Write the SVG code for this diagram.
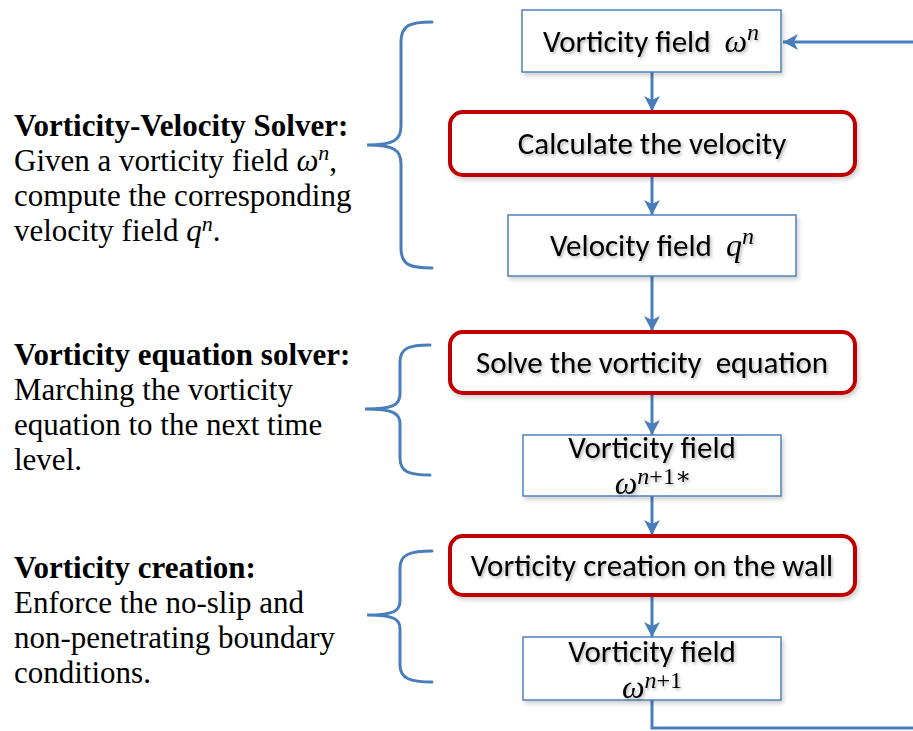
<svg xmlns="http://www.w3.org/2000/svg" width="913" height="731" viewBox="0 0 913 731">
<style>
.box{fill:#fff;stroke:#4F81BD;stroke-width:1.5}
.proc{fill:#fff;stroke:#C00000;stroke-width:4}
.bt{font-family:"Carlito","Lato","Open Sans",sans-serif;font-size:31px;fill:#000;text-anchor:middle}
.m{font-family:"Liberation Serif","DejaVu Serif",serif;font-style:italic}
.u{font-family:"Liberation Serif","DejaVu Serif",serif;font-style:normal}
.lt{font-family:"Liberation Serif","Times New Roman",serif;font-size:31px;fill:#000}
.lt .h{font-weight:bold}
.conn{fill:none;stroke:#4A7EBB;stroke-width:3}
.brace{fill:none;stroke:#4A7EBB;stroke-width:3;stroke-linecap:round}
</style>
<defs>
<marker id="ah" markerUnits="userSpaceOnUse" markerWidth="18" markerHeight="16" refX="15" refY="8" orient="auto">
<path d="M0,0 L15,8 L0,16 L4,8 Z" fill="#4A7EBB"/>
</marker>
<filter id="sh" x="-10%" y="-20%" width="120%" height="150%">
<feDropShadow dx="1.5" dy="2" stdDeviation="1.5" flood-color="#000" flood-opacity="0.3"/>
</filter>
<filter id="bs" x="-10%" y="-20%" width="125%" height="160%">
<feDropShadow dx="2" dy="3" stdDeviation="2" flood-color="#000" flood-opacity="0.18"/>
</filter>
</defs>

<g id="connectors">
<line class="conn" x1="652" y1="72" x2="652" y2="111" marker-end="url(#ah)"/>
<line class="conn" x1="652" y1="175" x2="652" y2="215" marker-end="url(#ah)"/>
<line class="conn" x1="652" y1="276" x2="652" y2="331" marker-end="url(#ah)"/>
<line class="conn" x1="652" y1="393" x2="652" y2="435" marker-end="url(#ah)"/>
<line class="conn" x1="652" y1="496" x2="652" y2="535" marker-end="url(#ah)"/>
<line class="conn" x1="652" y1="595" x2="652" y2="637" marker-end="url(#ah)"/>
<path class="conn" d="M652,700 V728 H922 V42 H783" marker-end="url(#ah)"/>
</g>

<g id="braces">
<path class="brace" d="M432,22 C410,22 401,25 401,42 L401,126 C401,140 394,145 367,145 C394,145 401,150 401,164 L401,248 C401,265 410,268 432,268"/>
<path class="brace" d="M430,345 C409,345 400,348 400,362 L400,394 C400,405 393,409 365,409 C393,409 400,413 400,424 L400,458 C400,472 409,475 430,475"/>
<path class="brace" d="M432,551 C411,551 400,554 400,568 L400,601 C400,611 394,615 367,615 C394,615 400,619 400,629 L400,665 C400,679 411,682 432,682"/>
</g>

<g id="n1">
<rect class="box" x="522" y="10" width="259" height="62" filter="url(#bs)"/>
<text class="bt" x="651" y="52" filter="url(#sh)" xml:space="preserve">Vorticity field  <tspan class="m" font-size="32">ω</tspan><tspan class="m" font-size="24" dy="-12">n</tspan></text>
</g>
<g id="n2">
<rect class="proc" x="450" y="112" width="405" height="63" rx="13" filter="url(#bs)"/>
<text class="bt" x="652" y="154" filter="url(#sh)">Calculate the velocity</text>
</g>
<g id="n3">
<rect class="box" x="508" y="215" width="288" height="61" filter="url(#bs)"/>
<text class="bt" x="652" y="256" filter="url(#sh)" xml:space="preserve">Velocity field  <tspan class="m" font-size="32">q</tspan><tspan class="m" font-size="24" dy="-12">n</tspan></text>
</g>
<g id="n4">
<rect class="proc" x="450" y="332" width="405" height="61" rx="13" filter="url(#bs)"/>
<text class="bt" x="652" y="373" filter="url(#sh)" xml:space="preserve">Solve the vorticity  equation</text>
</g>
<g id="n5">
<rect class="box" x="523" y="435" width="258" height="61" filter="url(#bs)"/>
<text class="bt" x="652" y="458" filter="url(#sh)">Vorticity field</text>
<text class="bt" x="653" y="494" filter="url(#sh)"><tspan class="m" font-size="32">ω</tspan><tspan class="m" font-size="24" dy="-10">n</tspan><tspan class="u" font-size="24">+1∗</tspan></text>
</g>
<g id="n6">
<rect class="proc" x="450" y="536" width="405" height="59" rx="13" filter="url(#bs)"/>
<text class="bt" x="652" y="576" filter="url(#sh)">Vorticity creation on the wall</text>
</g>
<g id="n7">
<rect class="box" x="523" y="637" width="258" height="63" filter="url(#bs)"/>
<text class="bt" x="652" y="662" filter="url(#sh)">Vorticity field</text>
<text class="bt" x="652" y="698" filter="url(#sh)"><tspan class="m" font-size="32">ω</tspan><tspan class="m" font-size="24" dy="-10">n</tspan><tspan class="u" font-size="24">+1</tspan></text>
</g>

<g id="desc1" class="lt">
<text x="14" y="136" class="h">Vorticity-Velocity Solver:</text>
<text x="14" y="171">Given a vorticity field <tspan class="m">ω</tspan><tspan class="m" font-size="22" dy="-11">n</tspan><tspan dy="11">,</tspan></text>
<text x="14" y="206">compute the corresponding</text>
<text x="14" y="241">velocity field <tspan class="m">q</tspan><tspan class="m" font-size="22" dy="-10">n</tspan><tspan dy="10">.</tspan></text>
</g>
<g id="desc2" class="lt">
<text x="14" y="365" class="h">Vorticity equation solver:</text>
<text x="14" y="400">Marching the vorticity</text>
<text x="14" y="435">equation to the next time</text>
<text x="14" y="470">level.</text>
</g>
<g id="desc3" class="lt">
<text x="14" y="578" class="h">Vorticity creation:</text>
<text x="14" y="613">Enforce the no-slip and</text>
<text x="14" y="648">non-penetrating boundary</text>
<text x="14" y="683">conditions.</text>
</g>
</svg>
